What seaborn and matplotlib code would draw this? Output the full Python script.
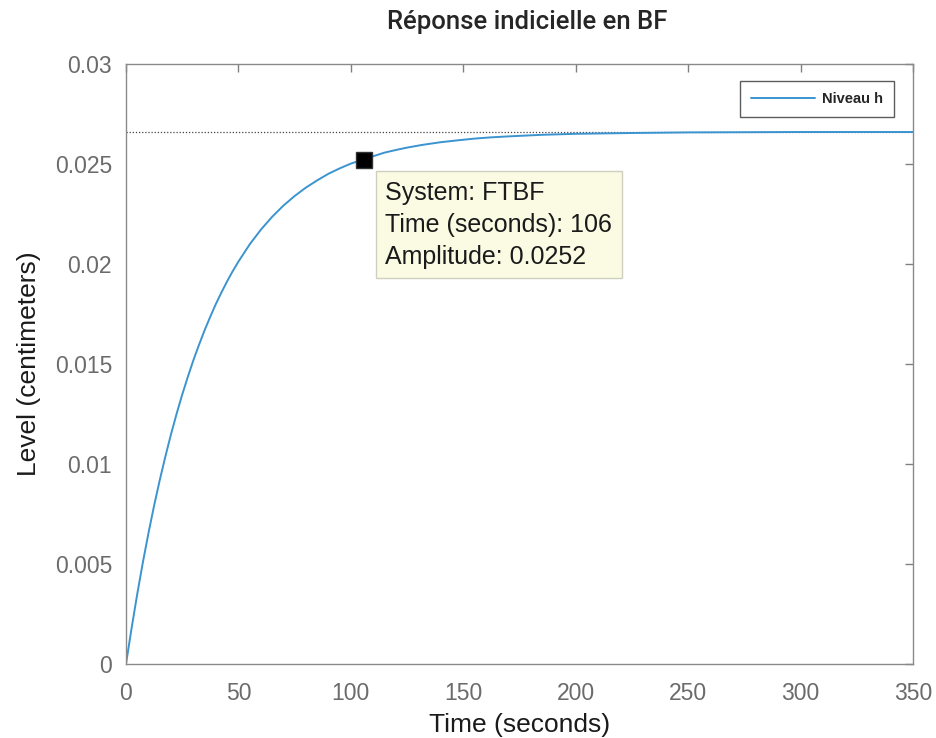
import matplotlib
matplotlib.use("Agg")
import matplotlib.pyplot as plt
import seaborn as sns

time_s = [0, 2.5, 5, 7.5, 10, 12.5, 15, 17.5, 20, 22.5, 25, 27.5, 30, 32.5, 35,
          37.5, 40, 42.5, 45, 47.5, 50, 55, 60, 65, 70, 75, 80, 85, 90, 95, 100,
          106, 110, 115, 120, 125, 132, 140, 148, 155, 162, 170, 185, 200, 225,
          250, 300, 350]
level_cm = [0.0, 0.00180, 0.00350, 0.00508, 0.00655, 0.00792, 0.00919, 0.01037,
            0.01148, 0.01251, 0.01347, 0.01436, 0.01520, 0.01597, 0.01670,
            0.01737, 0.01801, 0.01859, 0.01914, 0.01965, 0.02012, 0.02098,
            0.02172, 0.02236, 0.02292, 0.02340, 0.02382, 0.02418, 0.02451,
            0.02478, 0.02502, 0.02524, 0.02539, 0.02557, 0.02570, 0.02582,
            0.02596, 0.02609, 0.02619, 0.02627, 0.02633, 0.02638, 0.02646,
            0.02651, 0.02655, 0.02658, 0.02660, 0.02660]
final_value = 0.0266
tip_time = 106
tip_amp = 0.0252
x_ticks = [0, 50, 100, 150, 200, 250, 300, 350]
y_ticks = [0, 0.005, 0.01, 0.015, 0.02, 0.025, 0.03]
y_tick_labels = ["0", "0.005", "0.01", "0.015", "0.02", "0.025", "0.03"]

sns.set_style("white")
plt.rcParams["font.family"] = ["Liberation Sans", "DejaVu Sans"]

fig = plt.figure(figsize=(9.36, 7.38), dpi=100)
ax = fig.add_axes([126 / 936, 1 - 664 / 738, 787 / 936, 600 / 738])

ax.axhline(final_value, color="#444444", linestyle=(0, (1, 1.5)), linewidth=0.9, zorder=1)
sns.lineplot(x=time_s, y=level_cm, ax=ax, color="#3b94d0", linewidth=1.4,
             label="Niveau h", zorder=2)
ax.plot([tip_time], [tip_amp], marker="s", markersize=12, color="black",
        markeredgecolor="#333333", linestyle="none", zorder=3)

ax.annotate(f"System: FTBF\nTime (seconds): {tip_time}\nAmplitude: {tip_amp}",
            xy=(tip_time, tip_amp), xytext=(15, -15), textcoords="offset points",
            ha="left", va="top", fontsize=18, color="#1a1a1a", linespacing=1.42,
            bbox=dict(boxstyle="square,pad=0.38", facecolor="#fbfbe4",
                      edgecolor="#cfcfc0", linewidth=1))

ax.set_xlim(0, 350)
ax.set_ylim(0, 0.03)
ax.set_xticks(x_ticks)
ax.set_yticks(y_ticks)
ax.set_yticklabels(y_tick_labels)
ax.tick_params(direction="in", length=6, width=1, color="#808080",
               labelcolor="#6b6b6b", labelsize=16.5, top=True, right=True)
ax.tick_params(axis="x", pad=13)
ax.tick_params(axis="y", pad=10)
for s in ax.spines.values():
    s.set_color("#8a8a8a")
    s.set_linewidth(1)

ax.set_xlabel("Time (seconds)", fontsize=19, color="#1a1a1a", labelpad=6)
ax.set_ylabel("Level (centimeters)", fontsize=19, color="#1a1a1a", labelpad=10)

leg = ax.legend(loc="upper right", bbox_to_anchor=(0.976, 0.972), borderaxespad=0,
                frameon=True, fancybox=False, handlelength=4.4, handletextpad=0.5,
                borderpad=0.75, prop={"weight": "bold", "size": 10.5})
leg.get_frame().set_edgecolor("#333333")
leg.get_frame().set_linewidth(1)

fig.text(0.563, 0.97, "Réponse indicielle en BF", ha="center", va="center",
         fontsize=18.5, fontweight="medium", family=["Roboto", "DejaVu Sans"])

fig.savefig("out.png", dpi=100)
